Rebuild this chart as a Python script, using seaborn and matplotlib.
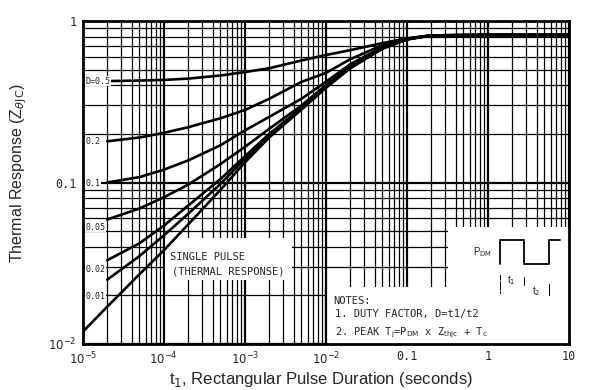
import pandas as pd
import matplotlib.pyplot as plt
from matplotlib.ticker import LogLocator, NullFormatter
from matplotlib.patches import Rectangle
import seaborn as sns

sns.set_style("white")
plt.rcParams['font.family'] = ['Liberation Sans', 'DejaVu Sans']

# pulse widths (s)
t_duty = [2e-5, 5e-5, 1e-4, 2e-4, 5e-4, 1e-3, 2e-3, 5e-3, 1e-2, 2e-2, 5e-2, 1e-1, 2e-1, 1, 10]
t_single = [1e-5, 2e-5, 5e-5, 1e-4, 2e-4, 5e-4, 1e-3, 2e-3, 5e-3, 1e-2, 2e-2, 5e-2, 1e-1, 2e-1, 1, 10]

# thermal response per duty factor
z_d05 = [0.425, 0.428, 0.432, 0.44, 0.46, 0.483, 0.51, 0.57, 0.616, 0.66, 0.73, 0.78, 0.815, 0.82, 0.82]
z_d02 = [0.18, 0.19, 0.203, 0.22, 0.25, 0.281, 0.33, 0.42, 0.477, 0.58, 0.71, 0.78, 0.815, 0.82, 0.82]
z_d01 = [0.10, 0.108, 0.12, 0.137, 0.17, 0.21, 0.255, 0.33, 0.42, 0.54, 0.69, 0.775, 0.815, 0.82, 0.82]
z_d005 = [0.059, 0.069, 0.081, 0.097, 0.13, 0.166, 0.215, 0.30, 0.40, 0.525, 0.68, 0.77, 0.815, 0.82, 0.82]
z_d002 = [0.033, 0.042, 0.054, 0.072, 0.105, 0.145, 0.20, 0.29, 0.393, 0.515, 0.677, 0.77, 0.815, 0.82, 0.82]
z_d001 = [0.025, 0.035, 0.047, 0.064, 0.098, 0.14, 0.195, 0.287, 0.39, 0.512, 0.676, 0.77, 0.815, 0.82, 0.82]
z_single = [0.0119, 0.017, 0.027, 0.038, 0.055, 0.09, 0.133, 0.19, 0.283, 0.385, 0.51, 0.675, 0.77, 0.815, 0.82, 0.82]

duty_labels = ['D=0.5', '0.2', '0.1', '0.05', '0.02', '0.01']
duty_label_y = [0.425, 0.18, 0.098, 0.053, 0.0288, 0.0198]

x_ticks = [1e-5, 1e-4, 1e-3, 1e-2, 1e-1, 1, 10]
x_ticklabels = ['$10^{-5}$', '$10^{-4}$', '$10^{-3}$', '$10^{-2}$', '0.1', '1', '10']
y_ticks = [1e-2, 1e-1, 1]
y_ticklabels = ['$10^{-2}$', '0.1', '1']

# build long table
frames = []
for name, z in zip(duty_labels, [z_d05, z_d02, z_d01, z_d005, z_d002, z_d001]):
    frames.append(pd.DataFrame({'t': t_duty, 'z': z, 'curve': name}))
frames.append(pd.DataFrame({'t': t_single, 'z': z_single, 'curve': 'single'}))
df = pd.concat(frames, ignore_index=True)

fig = plt.figure(figsize=(6, 3.9), dpi=100)
ax = fig.add_axes([0.138, 0.118, 0.81, 0.828])

sns.lineplot(data=df, x='t', y='z', units='curve', estimator=None,
             color='black', lw=1.9, ax=ax, zorder=3)

ax.set_xscale('log')
ax.set_yscale('log')
ax.set_xlim(1e-5, 10)
ax.set_ylim(1e-2, 1)

ax.set_axisbelow(True)
ax.xaxis.set_minor_locator(LogLocator(base=10, subs=range(2, 10), numticks=20))
ax.yaxis.set_minor_locator(LogLocator(base=10, subs=range(2, 10), numticks=20))
ax.xaxis.set_minor_formatter(NullFormatter())
ax.yaxis.set_minor_formatter(NullFormatter())
ax.grid(which='major', color='black', lw=1.6)
ax.grid(which='minor', color='black', lw=0.9)

mono = 'DejaVu Sans Mono'
ax.set_xticks(x_ticks)
ax.set_xticklabels(x_ticklabels, family=mono, fontsize=8.5)
ax.set_yticks(y_ticks)
ax.set_yticklabels(y_ticklabels, family=mono, fontsize=8.5)
ax.tick_params(which='major', length=3, width=1, color='black', pad=1.5)
ax.tick_params(which='minor', length=0)

for s in ax.spines.values():
    s.set_color('black')
    s.set_linewidth(2)

ax.set_xlabel('t$_1$, Rectangular Pulse Duration (seconds)', fontsize=12)
ax.set_ylabel('Thermal Response (Z$_{\\theta\\mathrm{JC}}$)', fontsize=11.5)
ax.xaxis.set_label_coords(0.49, -0.08)
ax.yaxis.set_label_coords(-0.11, 0.53)

# white boxes covering the grid
ax.add_patch(Rectangle((0.169, 0.198), 0.261, 0.13, transform=ax.transAxes,
                       facecolor='white', edgecolor='none', zorder=1))
ax.add_patch(Rectangle((0.502, 0.0), 0.498, 0.176, transform=ax.transAxes,
                       facecolor='white', edgecolor='none', zorder=1))
ax.add_patch(Rectangle((0.751, 0.0), 0.249, 0.362, transform=ax.transAxes,
                       facecolor='white', edgecolor='none', zorder=1))
ax.axvline(1e-2, ymax=0.176, color='black', lw=1.6, zorder=2)

# curve labels
for lab, yv in zip(duty_labels, duty_label_y):
    ax.text(1.08e-5, yv, lab, family=mono, fontsize=6, va='center', ha='left', zorder=4,
            bbox=dict(facecolor='white', edgecolor='none', pad=0.5))

ax.text(0.179, 0.269, 'SINGLE PULSE', transform=ax.transAxes, family=mono,
        fontsize=7.5, va='center', ha='left', zorder=4)
ax.text(0.183, 0.224, '(THERMAL RESPONSE)', transform=ax.transAxes, family=mono,
        fontsize=7.5, va='center', ha='left', zorder=4)

ax.text(0.515, 0.133, 'NOTES:', transform=ax.transAxes, family=mono, fontsize=7.5,
        va='center', ha='left', zorder=4)
ax.text(0.518, 0.092, '1. DUTY FACTOR, D=t1/t2', transform=ax.transAxes, family=mono,
        fontsize=7.5, va='center', ha='left', zorder=4)
ax.text(0.518, 0.036, '2. PEAK T$_\\mathrm{j}$=P$_\\mathrm{DM}$ x Z$_\\mathrm{thjc}$ + T$_\\mathrm{c}$',
        transform=ax.transAxes, family=mono, fontsize=7.5, va='center', ha='left', zorder=4)

# pulse sketch
pax = fig.add_axes([0.783, 0.241, 0.158, 0.164])
pax.set_xlim(0, 1)
pax.set_ylim(0, 1)
pax.axis('off')
pax.plot([0.316, 0.316, 0.568, 0.568, 0.832, 0.832, 0.947],
         [0.5, 0.875, 0.875, 0.5, 0.5, 0.875, 0.875], color='black', lw=1.3)
pax.annotate('', xy=(0.242, 0.5), xytext=(0.242, 0.875),
             arrowprops=dict(arrowstyle='<->', lw=0.7, shrinkA=0, shrinkB=0, mutation_scale=5))
pax.text(0.23, 0.69, 'P$_\\mathrm{DM}$', fontsize=7, ha='right', va='center')
pax.plot([0.316, 0.316], [0.04, 0.33], color='black', lw=0.7)
pax.plot([0.568, 0.568], [0.17, 0.3], color='black', lw=0.7)
pax.plot([0.832, 0.832], [0.02, 0.18], color='black', lw=0.7)
pax.annotate('', xy=(0.316, 0.234), xytext=(0.568, 0.234),
             arrowprops=dict(arrowstyle='<->', lw=0.7, shrinkA=0, shrinkB=0, mutation_scale=5))
pax.text(0.44, 0.25, 't$_1$', fontsize=7, ha='center', va='center',
         bbox=dict(facecolor='white', edgecolor='none', pad=0.5))
pax.annotate('', xy=(0.316, 0.078), xytext=(0.832, 0.078),
             arrowprops=dict(arrowstyle='<->', lw=0.7, shrinkA=0, shrinkB=0, mutation_scale=5))
pax.text(0.70, 0.07, 't$_2$', fontsize=7, ha='center', va='center',
         bbox=dict(facecolor='white', edgecolor='none', pad=0.5))

fig.savefig('out.png', dpi=100)
